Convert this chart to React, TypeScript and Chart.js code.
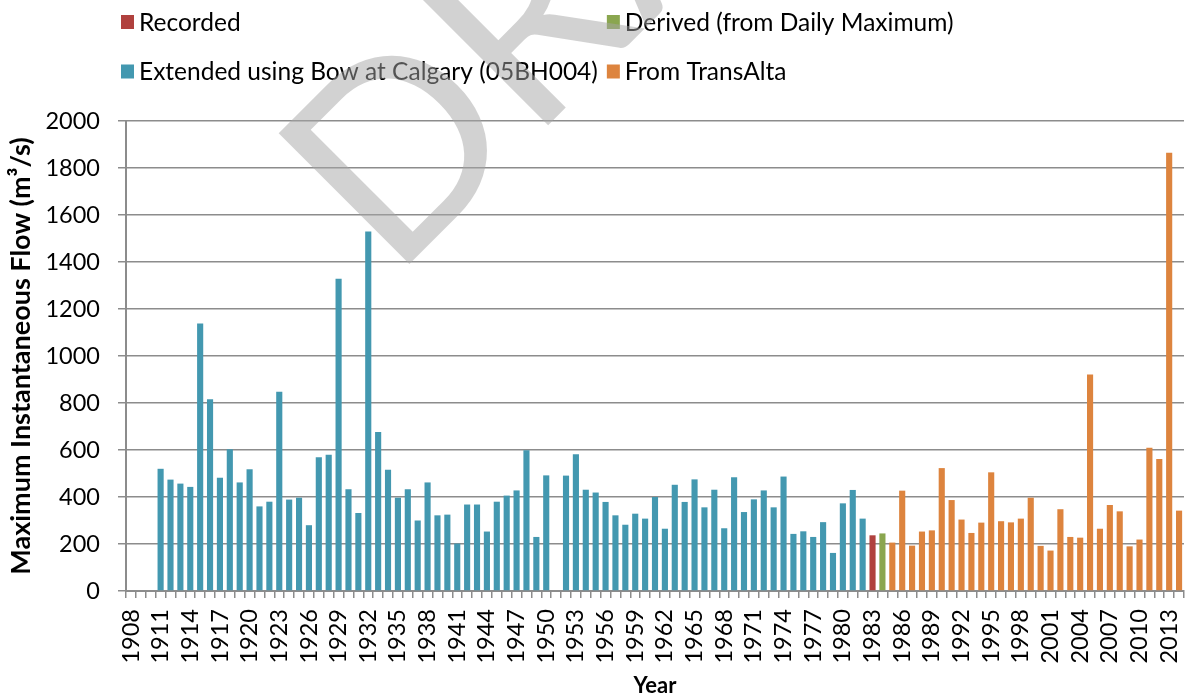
import React, { useEffect, useRef } from "react";
import { Chart, registerables } from "chart.js";

Chart.register(...registerables);

// Categories (years)
const years: number[] = [
  1908, 1909, 1910, 1911, 1912, 1913, 1914, 1915, 1916, 1917, 1918, 1919, 1920,
  1921, 1922, 1923, 1924, 1925, 1926, 1927, 1928, 1929, 1930, 1931, 1932, 1933,
  1934, 1935, 1936, 1937, 1938, 1939, 1940, 1941, 1942, 1943, 1944, 1945, 1946,
  1947, 1948, 1949, 1950, 1951, 1952, 1953, 1954, 1955, 1956, 1957, 1958, 1959,
  1960, 1961, 1962, 1963, 1964, 1965, 1966, 1967, 1968, 1969, 1970, 1971, 1972,
  1973, 1974, 1975, 1976, 1977, 1978, 1979, 1980, 1981, 1982, 1983, 1984, 1985,
  1986, 1987, 1988, 1989, 1990, 1991, 1992, 1993, 1994, 1995, 1996, 1997, 1998,
  1999, 2000, 2001, 2002, 2003, 2004, 2005, 2006, 2007, 2008, 2009, 2010, 2011,
  2012, 2013, 2014,
];

// Tick labels shown on the x axis
const tickLabelYears: number[] = [
  1908, 1911, 1914, 1917, 1920, 1923, 1926, 1929, 1932, 1935, 1938, 1941, 1944,
  1947, 1950, 1953, 1956, 1959, 1962, 1965, 1968, 1971, 1974, 1977, 1980, 1983,
  1986, 1989, 1992, 1995, 1998, 2001, 2004, 2007, 2010, 2013,
];

// Series: Recorded (1983)
const recordedStart = 1983;
const recordedFlow: (number | null)[] = [237];

// Series: Derived (from Daily Maximum) (1984)
const derivedStart = 1984;
const derivedFlow: (number | null)[] = [245];

// Series: Extended using Bow at Calgary (1911-1982)
const extendedStart = 1911;
const extendedFlow: (number | null)[] = [
  520, 474, 457, 443, 1138, 816, 482, 603, 462, 518, // 1911-1920
  360, 380, 848, 389, 397, 280, 569, 580, 1329, 433, // 1921-1930
  332, 1530, 677, 516, 397, 433, 300, 462, 322, 325, // 1931-1940
  202, 368, 368, 253, 380, 406, 428, 599, 230, 492, // 1941-1950
  null, 491, 582, 431, 419, 379, 322, 282, 329, 308, // 1951-1960
  400, 265, 452, 379, 475, 356, 431, 267, 484, 336, // 1961-1970
  390, 428, 356, 487, 243, 254, 230, 293, 162, 373, // 1971-1980
  430, 308, // 1981-1982
];

// Series: From TransAlta (1985-2014)
const transAltaStart = 1985;
const transAltaFlow: (number | null)[] = [
  206, 427, 193, 253, 258, 523, 387, 304, 247, 291, // 1985-1994
  505, 297, 292, 308, 397, 192, 172, 348, 230, 227, // 1995-2004
  921, 265, 366, 339, 190, 219, 610, 562, 1865, 342, // 2005-2014
];

// Y-axis range
const yMin = 0;
const yMax = 2000;
const yStep = 200;

const seriesLabels = [
  "Recorded",
  "Derived (from Daily Maximum)",
  "Extended using Bow at Calgary (05BH004)",
  "From TransAlta",
];
const seriesColors = ["#B0413E", "#8AA64F", "#4398B0", "#DD843E"];

function placeOnYears(values: (number | null)[], start: number): (number | null)[] {
  return years.map((y) => {
    const i = y - start;
    return i >= 0 && i < values.length ? values[i] : null;
  });
}

const FONT = "Lato, 'Open Sans', sans-serif";

const legendAndWatermark = {
  id: "legendAndWatermark",
  afterDraw(chart: any) {
    const ctx = chart.ctx as CanvasRenderingContext2D;
    const ds = chart.data.datasets;
    // Legend: 2 x 2 grid
    ctx.save();
    ctx.font = `24.5px ${FONT}`;
    ctx.textBaseline = "middle";
    ctx.textAlign = "left";
    const x0 = 121;
    const rowY = [22, 71.5];
    const sw = 13;
    const textGap = 18;
    const col1W = Math.max(
      ctx.measureText(ds[0].label).width,
      ctx.measureText(ds[2].label).width
    );
    const x1 = x0 + textGap + col1W + 9;
    const cells = [
      { d: ds[0], x: x0, y: rowY[0] },
      { d: ds[1], x: x1, y: rowY[0] },
      { d: ds[2], x: x0, y: rowY[1] },
      { d: ds[3], x: x1, y: rowY[1] },
    ];
    for (const c of cells) {
      ctx.fillStyle = c.d.backgroundColor;
      ctx.fillRect(c.x, c.y - 7, sw, 14);
      ctx.fillStyle = "#000";
      ctx.fillText(c.d.label, c.x + textGap, c.y + 1);
    }
    ctx.restore();

    // DRAFT watermark
    ctx.save();
    ctx.translate(392.7, 280.6);
    ctx.rotate(-Math.PI / 4);
    ctx.font = `258px ${FONT}`;
    ctx.textBaseline = "alphabetic";
    ctx.textAlign = "left";
    ctx.fillStyle = "rgba(165,165,165,0.5)";
    ctx.fillText("DRAFT", 0, 0);
    ctx.restore();
  },
};

export default function App() {
  const canvasRef = useRef<HTMLCanvasElement | null>(null);

  useEffect(() => {
    document.body.style.margin = "0";
    const canvas = canvasRef.current;
    if (!canvas) return;
    const gridColor = "#8c8c8c";
    const chart = new Chart(canvas, {
      type: "bar",
      data: {
        labels: years.map(String),
        datasets: [
          { label: seriesLabels[0], data: placeOnYears(recordedFlow, recordedStart), backgroundColor: seriesColors[0] },
          { label: seriesLabels[1], data: placeOnYears(derivedFlow, derivedStart), backgroundColor: seriesColors[1] },
          { label: seriesLabels[2], data: placeOnYears(extendedFlow, extendedStart), backgroundColor: seriesColors[2] },
          { label: seriesLabels[3], data: placeOnYears(transAltaFlow, transAltaStart), backgroundColor: seriesColors[3] },
        ].map((d) => ({ ...d, barPercentage: 0.62, categoryPercentage: 1, borderWidth: 0 })),
      },
      options: {
        responsive: false,
        animation: false,
        devicePixelRatio: 1,
        layout: { padding: { top: 121, left: 0, right: 1, bottom: 0 } },
        plugins: {
          legend: { display: false },
          tooltip: { enabled: false },
        },
        scales: {
          x: {
            stacked: true,
            offset: true,
            grid: {
              display: true,
              offset: true,
              drawOnChartArea: false,
              drawTicks: true,
              tickLength: 7,
              color: gridColor,
              lineWidth: 1.5,
            },
            border: { display: true, color: gridColor, width: 2 },
            ticks: {
              autoSkip: false,
              maxRotation: 90,
              minRotation: 90,
              padding: 11,
              color: "#000",
              font: { family: FONT, size: 23.5 },
              callback: function (this: any, value: any, index: number) {
                const y = years[index];
                return tickLabelYears.includes(y) ? String(y) : "";
              },
            },
            title: {
              display: true,
              text: "Year",
              color: "#000",
              font: { family: FONT, size: 22, weight: "bold" },
              padding: { top: 0, bottom: 1 },
            },
            afterFit: (scale: any) => {
              scale.height = 109;
              scale.paddingLeft = 0;
              scale.paddingRight = 0;
            },
          },
          y: {
            stacked: true,
            min: yMin,
            max: yMax,
            grid: {
              color: gridColor,
              lineWidth: 1.5,
              drawTicks: true,
              tickLength: 8,
            },
            border: { display: true, color: gridColor, width: 2 },
            ticks: {
              stepSize: yStep,
              padding: 18,
              color: "#000",
              font: { family: FONT, size: 23.5 },
              callback: (value: any) => String(value),
            },
            title: {
              display: true,
              text: "Maximum Instantaneous Flow (m³/s)",
              color: "#000",
              font: { family: FONT, size: 27, weight: "bold" },
              padding: { top: 5, bottom: 0 },
            },
            afterFit: (scale: any) => {
              scale.width = 126;
            },
          },
        },
      },
      plugins: [legendAndWatermark],
    });
    return () => chart.destroy();
  }, []);

  return (
    <div style={{ width: 1185, height: 700 }}>
      <canvas ref={canvasRef} width={1185} height={700} style={{ display: "block" }} />
    </div>
  );
}
